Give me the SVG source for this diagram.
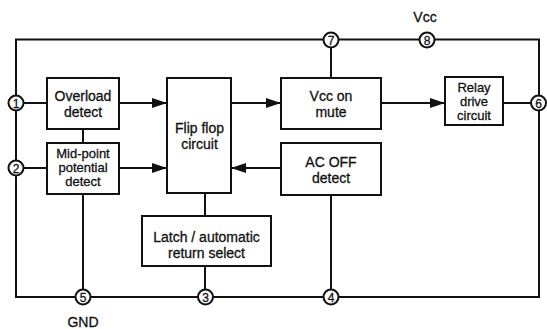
<svg xmlns="http://www.w3.org/2000/svg" width="547" height="329" viewBox="0 0 547 329">
<defs>
<style>
.box{fill:#fff;stroke:#111;stroke-width:2}
.ln{fill:none;stroke:#111;stroke-width:2}
.pin{fill:#fff;stroke:#111;stroke-width:2}
.t{font-family:"Liberation Sans",Arial,sans-serif;font-size:14px;fill:#111;text-anchor:middle;stroke:#111;stroke-width:0.3}
.s{font-size:13px}
.p{font-family:"Liberation Sans",Arial,sans-serif;font-size:12px;fill:#111;text-anchor:middle;stroke:#111;stroke-width:0.3}
</style>
<marker id="ah" viewBox="0 0 15 10" refX="15" refY="5" markerWidth="15" markerHeight="10" markerUnits="userSpaceOnUse" orient="auto">
<path d="M0,0 L15,5 L0,10 Z" fill="#111"/>
</marker>
</defs>
<rect width="547" height="329" fill="#fff"/>
<g id="connectors">
<path class="ln" d="M16,39.5 H539 V297 H16 Z"/>
<line class="ln" x1="16" y1="103" x2="47" y2="103"/>
<line class="ln" x1="16" y1="168" x2="47" y2="168"/>
<line class="ln" x1="119" y1="103" x2="167" y2="103" marker-end="url(#ah)"/>
<line class="ln" x1="119" y1="168" x2="167" y2="168" marker-end="url(#ah)"/>
<line class="ln" x1="231" y1="103" x2="281" y2="103" marker-end="url(#ah)"/>
<line class="ln" x1="281" y1="168" x2="231" y2="168" marker-end="url(#ah)"/>
<line class="ln" x1="381" y1="103" x2="445" y2="103" marker-end="url(#ah)"/>
<line class="ln" x1="503" y1="103" x2="539" y2="103"/>
<line class="ln" x1="83" y1="129" x2="83" y2="143"/>
<line class="ln" x1="83" y1="194" x2="83" y2="297"/>
<line class="ln" x1="205" y1="193" x2="205" y2="216"/>
<line class="ln" x1="205" y1="266" x2="205" y2="297"/>
<line class="ln" x1="331" y1="195" x2="331" y2="297"/>
<line class="ln" x1="331" y1="40" x2="331" y2="78"/>
</g>
<g id="overload"><rect class="box" x="47" y="78" width="72" height="51"/><text class="t" x="83" y="101">Overload</text><text class="t" x="83" y="117">detect</text></g>
<g id="midpoint"><rect class="box" x="47" y="143" width="72" height="51"/><text class="t s" x="83" y="158">Mid-point</text><text class="t s" x="83" y="172">potential</text><text class="t s" x="83" y="186">detect</text></g>
<g id="flipflop"><rect class="box" x="167" y="78" width="64" height="115"/><text class="t" x="199.5" y="133">Flip flop</text><text class="t" x="199.5" y="149">circuit</text></g>
<g id="vccmute"><rect class="box" x="281" y="78" width="100" height="51"/><text class="t" x="331" y="101">Vcc on</text><text class="t" x="331" y="117">mute</text></g>
<g id="acoff"><rect class="box" x="281" y="143" width="100" height="52"/><text class="t" x="331" y="167">AC OFF</text><text class="t" x="331" y="183">detect</text></g>
<g id="relay"><rect class="box" x="445" y="77" width="58" height="48"/><text class="t s" x="474" y="92">Relay</text><text class="t s" x="474" y="106">drive</text><text class="t s" x="474" y="120">circuit</text></g>
<g id="latch"><rect class="box" x="142" y="216" width="129" height="50"/><text class="t" x="206.5" y="242">Latch / automatic</text><text class="t" x="206.5" y="258">return select</text></g>
<g id="pin1"><circle class="pin" cx="16" cy="103" r="7.5"/><text class="p" x="16" y="107.5">1</text></g>
<g id="pin2"><circle class="pin" cx="16" cy="168" r="7.5"/><text class="p" x="16" y="172.5">2</text></g>
<g id="pin3"><circle class="pin" cx="205.5" cy="297" r="7.5"/><text class="p" x="205.5" y="301.5">3</text></g>
<g id="pin4"><circle class="pin" cx="331" cy="297" r="7.5"/><text class="p" x="331" y="301.5">4</text></g>
<g id="pin5"><circle class="pin" cx="83" cy="297" r="7.5"/><text class="p" x="83" y="301.5">5</text></g>
<g id="pin6"><circle class="pin" cx="538.5" cy="103" r="7.5"/><text class="p" x="538.5" y="107.5">6</text></g>
<g id="pin7"><circle class="pin" cx="331" cy="40" r="7.5"/><text class="p" x="331" y="44.5">7</text></g>
<g id="pin8"><circle class="pin" cx="427" cy="40" r="7.5"/><text class="p" x="427" y="44.5">8</text></g>
<g id="labels"><text class="t" x="425" y="21.5">Vcc</text><text class="t" x="83" y="327">GND</text></g>
</svg>
